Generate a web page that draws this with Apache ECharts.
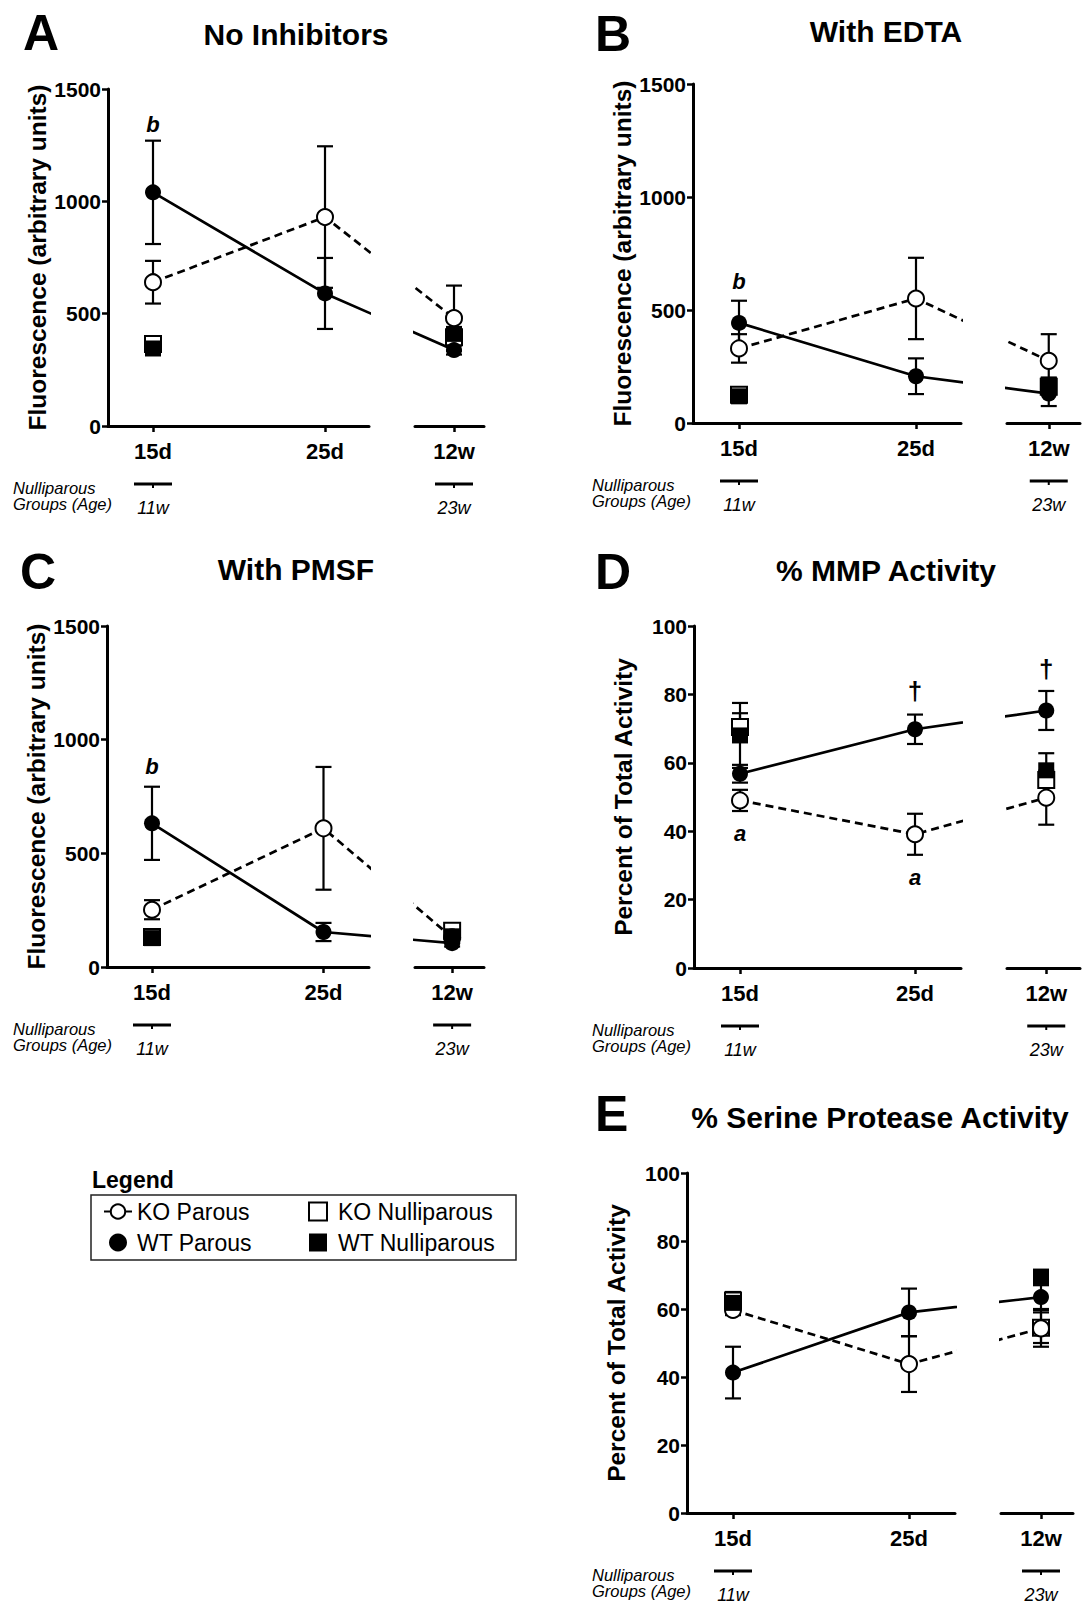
<!DOCTYPE html>
<html><head><meta charset="utf-8">
<script src="https://cdn.jsdelivr.net/npm/echarts@6/dist/echarts.min.js"></script>
<style>html,body{margin:0;padding:0;background:#fff}#c{width:1086px;height:1606px}</style>
</head><body><div id="c"></div>
<script>
// ---------------- DATA (means and SEM) ----------------
const categories = ['15d', '25d', '12w'];
const nulliparousAt = ['15d', '12w'];
const nulliparousAges = ['11w', '23w'];
const seriesNames = ['KO Parous', 'WT Parous', 'KO Nulliparous', 'WT Nulliparous'];

// A: No Inhibitors
const A_koParous = [640, 930, 480];
const A_koParousErr = [95, 315, 145];
const A_wtParous = [1040, 590, 338];
const A_wtParousErr = [230, 158, 20];
const A_koNulli = [365, 395];
const A_koNulliErr = [30, 30];
const A_wtNulli = [345, 410];
const A_wtNulliErr = [20, 25];
const A_notes = [['b', '15d', 1340]];

// B: With EDTA
const B_koParous = [330, 551, 275];
const B_koParousErr = [63, 180, 118];
const B_wtParous = [443, 207, 130];
const B_wtParousErr = [98, 79, 55];
const B_koNulli = [125, 160];
const B_koNulliErr = [12, 25];
const B_wtNulli = [118, 170];
const B_wtNulliErr = [12, 30];
const B_notes = [['b', '15d', 625]];

// C: With PMSF
const C_koParous = [252, 610, 130];
const C_koParousErr = [42, 270, 20];
const C_wtParous = [632, 154, 105];
const C_wtParousErr = [161, 40, 15];
const C_koNulli = [132, 160];
const C_koNulliErr = [10, 15];
const C_wtNulli = [127, 135];
const C_wtNulliErr = [10, 15];
const C_notes = [['b', '15d', 881]];

// D: % MMP Activity
const D_koParous = [49.0, 39.1, 49.8];
const D_koParousErr = [3.1, 6.0, 7.9];
const D_wtParous = [56.8, 69.8, 75.3];
const D_wtParousErr = [2.6, 4.3, 5.7];
const D_koNulli = [70.5, 55.0];
const D_koNulliErr = [4.0, 2.0];
const D_wtNulli = [68.0, 57.8];
const D_wtNulliErr = [9.5, 5.0];
const D_notes = [['a', '15d', 39.3], ['a', '25d', 26.5], ['\u2020', '25d', 81], ['\u2020', '12w', 87.5]];

// E: % Serine Protease Activity
const E_koParous = [59.7, 43.8, 54.3];
const E_koParousErr = [1.5, 8.2, 5.4];
const E_wtParous = [41.3, 59.0, 63.5];
const E_wtParousErr = [7.6, 7.0, 3.5];
const E_koNulli = [62.5, 54.5];
const E_koNulliErr = [2.5, 4.5];
const E_wtNulli = [61.8, 69.5];
const E_wtNulliErr = [1.5, 2.0];
const E_notes = [];

// ---------------- LAYOUT ----------------
const FONT = '"Liberation Sans", Arial, Helvetica, sans-serif';
const catPos = [0, 1, 1.75]; // x position of each category on the broken axis
const panels = [
  {letter:'A', title:'No Inhibitors', yName:'Fluorescence (arbitrary units)', yMax:1500, yInt:500,
   ko:A_koParous, koE:A_koParousErr, wt:A_wtParous, wtE:A_wtParousErr, kn:A_koNulli, knE:A_koNulliErr, wn:A_wtNulli, wnE:A_wtNulliErr, notes:A_notes,
   L:{axisX:108, top:89, bottom:426, x15:153, unit:172, leftEnd:369, rightStart:415, rightEnd:484, textX:13, letterX:23, letterY:33, titleX:296, titleY:34}},
  {letter:'B', title:'With EDTA', yName:'Fluorescence (arbitrary units)', yMax:1500, yInt:500,
   ko:B_koParous, koE:B_koParousErr, wt:B_wtParous, wtE:B_wtParousErr, kn:B_koNulli, knE:B_koNulliErr, wn:B_wtNulli, wnE:B_wtNulliErr, notes:B_notes,
   L:{axisX:693, top:84, bottom:423, x15:739, unit:177, leftEnd:961, rightStart:1007, rightEnd:1080, textX:592, letterX:595, letterY:34, titleX:886, titleY:31}},
  {letter:'C', title:'With PMSF', yName:'Fluorescence (arbitrary units)', yMax:1500, yInt:500,
   ko:C_koParous, koE:C_koParousErr, wt:C_wtParous, wtE:C_wtParousErr, kn:C_koNulli, knE:C_koNulliErr, wn:C_wtNulli, wnE:C_wtNulliErr, notes:C_notes,
   L:{axisX:107, top:626, bottom:967, x15:152, unit:171.5, leftEnd:369, rightStart:415, rightEnd:484, textX:13, letterX:20, letterY:572, titleX:296, titleY:569}},
  {letter:'D', title:'% MMP Activity', yName:'Percent of Total Activity', yMax:100, yInt:20,
   ko:D_koParous, koE:D_koParousErr, wt:D_wtParous, wtE:D_wtParousErr, kn:D_koNulli, knE:D_koNulliErr, wn:D_wtNulli, wnE:D_wtNulliErr, notes:D_notes,
   L:{axisX:694, top:626, bottom:968, x15:740, unit:175, leftEnd:961, rightStart:1007, rightEnd:1080, textX:592, letterX:595, letterY:572, titleX:886, titleY:570}},
  {letter:'E', title:'% Serine Protease Activity', yName:'Percent of Total Activity', yMax:100, yInt:20,
   ko:E_koParous, koE:E_koParousErr, wt:E_wtParous, wtE:E_wtParousErr, kn:E_koNulli, knE:E_koNulliErr, wn:E_wtNulli, wnE:E_wtNulliErr, notes:E_notes,
   L:{axisX:687, top:1173, bottom:1513, x15:733, unit:176, leftEnd:955, rightStart:1001, rightEnd:1073, textX:592, letterX:595, letterY:1114, titleX:880, titleY:1117}}
];

function posOf(cat) { return catPos[categories.indexOf(cat)]; }
function catOf(v) { const i = catPos.findIndex(p => Math.abs(p - v) < 1e-6); return i >= 0 ? categories[i] : ''; }

const grids = [], xAxes = [], yAxes = [], series = [], graphics = [];
const SYM = 16;

panels.forEach(p => {
  const L = p.L;
  const groups = [
    {name: seriesNames[0], means: p.ko, errs: p.koE, cats: categories},
    {name: seriesNames[1], means: p.wt, errs: p.wtE, cats: categories},
    {name: seriesNames[2], means: p.kn, errs: p.knE, cats: nulliparousAt},
    {name: seriesNames[3], means: p.wn, errs: p.wnE, cats: nulliparousAt}
  ];
  const halves = [
    {left: L.axisX, right: L.leftEnd, showY: true},
    {left: L.rightStart, right: L.rightEnd, showY: false}
  ];
  halves.forEach(h => {
    const gi = grids.length;
    const xmin = (h.left - L.x15) / L.unit, xmax = (h.right - L.x15) / L.unit;
    const inR = x => x >= xmin && x <= xmax;
    const ticks = catPos.filter(inR);
    grids.push({left: h.left, top: L.top, width: h.right - h.left, height: L.bottom - L.top});
    xAxes.push({
      type: 'value', gridIndex: gi, min: xmin, max: xmax,
      axisLine: {show: true, onZero: false, lineStyle: {color: '#000', width: 3}},
      axisTick: {show: true, customValues: ticks, length: 6, lineStyle: {color: '#000', width: 2.5}},
      axisLabel: {customValues: ticks, formatter: v => catOf(v), margin: 14, color: '#000',
                  fontWeight: 'bold', fontSize: 22, fontFamily: FONT},
      splitLine: {show: false}
    });
    yAxes.push({
      type: 'value', gridIndex: gi, min: 0, max: p.yMax, interval: p.yInt, show: h.showY,
      axisLine: {show: true, onZero: false, lineStyle: {color: '#000', width: 3}},
      axisTick: {show: true, length: 6, lineStyle: {color: '#000', width: 2.5}},
      axisLabel: {margin: 7, color: '#000', fontWeight: 'bold', fontSize: 21, fontFamily: FONT,
                  formatter: v => String(v)},
      splitLine: {show: false},
      name: h.showY ? p.yName : '', nameLocation: 'middle', nameRotate: 90, nameGap: 58,
      nameTextStyle: {color: '#000', fontWeight: 'bold', fontSize: 24.5, fontFamily: FONT}
    });

    // error bars
    const eb = [];
    groups.forEach(g => g.cats.forEach((c, i) => {
      const x = posOf(c);
      if (inR(x) && g.errs[i] > 0) eb.push([x, g.means[i], g.errs[i]]);
    }));
    series.push({
      type: 'custom', xAxisIndex: gi, yAxisIndex: gi, z: 1, silent: true, clip: false,
      data: eb,
      renderItem: (params, api) => {
        const x = api.value(0), m = api.value(1), e = api.value(2);
        const t = api.coord([x, m + e]), b = api.coord([x, m - e]);
        const hw = 8;
        const st = {stroke: '#000', lineWidth: 2.2};
        return {type: 'group', children: [
          {type: 'line', shape: {x1: t[0], y1: t[1], x2: b[0], y2: b[1]}, style: st},
          {type: 'line', shape: {x1: t[0] - hw, y1: t[1], x2: t[0] + hw, y2: t[1]}, style: st},
          {type: 'line', shape: {x1: b[0] - hw, y1: b[1], x2: b[0] + hw, y2: b[1]}, style: st}
        ]};
      }
    });

    // KO Nulliparous (open squares)
    series.push({
      name: seriesNames[2], type: 'scatter', xAxisIndex: gi, yAxisIndex: gi, z: 2, clip: true,
      symbol: 'rect', symbolSize: SYM,
      itemStyle: {color: '#fff', borderColor: '#000', borderWidth: 2, opacity: 1},
      data: nulliparousAt.map((c, i) => [posOf(c), p.kn[i]])
    });
    // KO Parous (open circles, dashed)
    series.push({
      name: seriesNames[0], type: 'line', xAxisIndex: gi, yAxisIndex: gi, z: 3, clip: true,
      symbol: 'circle', symbolSize: SYM, showAllSymbol: true,
      itemStyle: {color: '#fff', borderColor: '#000', borderWidth: 2},
      lineStyle: {color: '#000', width: 2.7, type: [8, 5]},
      data: categories.map((c, i) => [posOf(c), p.ko[i]])
    });
    // WT Nulliparous (filled squares)
    series.push({
      name: seriesNames[3], type: 'scatter', xAxisIndex: gi, yAxisIndex: gi, z: 4, clip: true,
      symbol: 'rect', symbolSize: SYM,
      itemStyle: {color: '#000', opacity: 1},
      data: nulliparousAt.map((c, i) => [posOf(c), p.wn[i]])
    });
    // WT Parous (filled circles, solid)
    series.push({
      name: seriesNames[1], type: 'line', xAxisIndex: gi, yAxisIndex: gi, z: 5, clip: true,
      symbol: 'circle', symbolSize: SYM, showAllSymbol: true,
      itemStyle: {color: '#000'},
      lineStyle: {color: '#000', width: 2.7, type: 'solid'},
      data: categories.map((c, i) => [posOf(c), p.wt[i]])
    });

    // annotations
    const notes = p.notes.filter(n => inR(posOf(n[1])));
    if (notes.length) {
      series.push({
        type: 'custom', xAxisIndex: gi, yAxisIndex: gi, z: 6, silent: true, clip: false,
        data: notes.map(n => [posOf(n[1]), n[2]]),
        renderItem: (params, api) => {
          const pt = api.coord([api.value(0), api.value(1)]);
          const txt = notes[params.dataIndex][0];
          const isDagger = txt === '\u2020';
          return {type: 'text', x: pt[0], y: pt[1], style: {
            text: txt, fill: '#000', align: 'center', verticalAlign: 'middle',
            font: (isDagger ? 'bold 26px ' : 'italic bold 22px ') + FONT}};
        }
      });
    }

    // nulliparous age sub-axis
    const ages = nulliparousAt.map((c, i) => [posOf(c), 0, i]).filter(d => inR(d[0]));
    series.push({
      type: 'custom', xAxisIndex: gi, yAxisIndex: gi, z: 6, silent: true, clip: false,
      data: ages,
      renderItem: (params, api) => {
        const base = api.coord([api.value(0), api.value(1)]);
        const x = base[0], y = base[1] + 58;
        const label = nulliparousAges[api.value(2)];
        return {type: 'group', children: [
          {type: 'line', shape: {x1: x - 19, y1: y, x2: x + 19, y2: y}, style: {stroke: '#000', lineWidth: 3}},
          {type: 'line', shape: {x1: x, y1: y, x2: x, y2: y + 4}, style: {stroke: '#000', lineWidth: 2}},
          {type: 'text', x: x, y: y + 24, style: {text: label, fill: '#000', align: 'center',
            verticalAlign: 'middle', font: 'italic 18px ' + FONT}}
        ]};
      }
    });
  });

  // panel letter and title
  graphics.push({type: 'text', x: L.letterX, y: L.letterY, style: {text: p.letter, fill: '#000',
    align: 'left', verticalAlign: 'middle', font: 'bold 50px ' + FONT}});
  graphics.push({type: 'text', x: L.titleX, y: L.titleY, style: {text: p.title, fill: '#000',
    align: 'center', verticalAlign: 'middle', font: 'bold 30px ' + FONT}});
  graphics.push({type: 'text', x: L.textX, y: L.bottom + 62, style: {text: 'Nulliparous', fill: '#000',
    align: 'left', verticalAlign: 'middle', font: 'italic 16.5px ' + FONT}});
  graphics.push({type: 'text', x: L.textX, y: L.bottom + 78, style: {text: 'Groups (Age)', fill: '#000',
    align: 'left', verticalAlign: 'middle', font: 'italic 16.5px ' + FONT}});
});

// legend decorations
graphics.push({type: 'text', x: 92, y: 1180, style: {text: 'Legend', fill: '#000', align: 'left',
  verticalAlign: 'middle', font: 'bold 23px ' + FONT}});
graphics.push({type: 'rect', shape: {x: 91, y: 1195, width: 425, height: 65},
  style: {fill: 'none', stroke: '#222', lineWidth: 1.5}});

const legendText = {fontSize: 23, fontFamily: FONT, color: '#000'};
const option = {
  animation: false,
  backgroundColor: '#fff',
  textStyle: {fontFamily: FONT},
  grid: grids, xAxis: xAxes, yAxis: yAxes, series: series,
  graphic: graphics,
  legend: [
    {orient: 'vertical', left: 103, top: 1200, padding: 0, itemGap: 8, itemWidth: 28, itemHeight: 18,
     selectedMode: false, textStyle: legendText,
     data: [{name: 'KO Parous', lineStyle: {type: 'solid', width: 2}}, {name: 'WT Parous', icon: 'circle'}]},
    {orient: 'vertical', left: 308, top: 1200, padding: 0, itemGap: 8, itemWidth: 18, itemHeight: 18,
     selectedMode: false, textStyle: Object.assign({padding: [0, 0, 0, 6]}, legendText),
     data: ['KO Nulliparous', 'WT Nulliparous']}
  ]
};

const chart = echarts.init(document.getElementById('c'), null, {renderer: 'svg', width: 1086, height: 1606});
chart.setOption(option);
</script>
</body></html>
